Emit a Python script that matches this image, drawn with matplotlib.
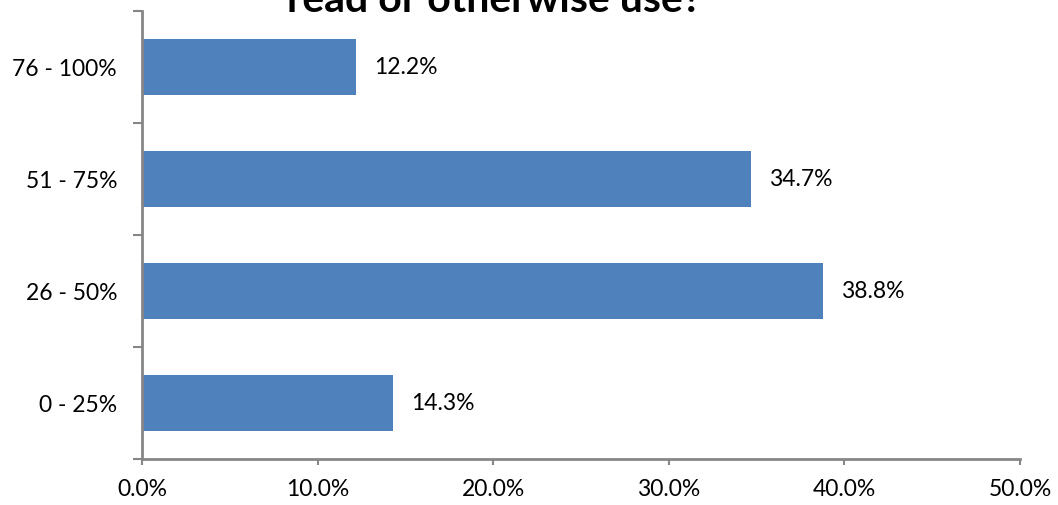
import matplotlib
matplotlib.use('Agg')
import matplotlib.pyplot as plt

categories = ['0 - 25%', '26 - 50%', '51 - 75%', '76 - 100%']
values = [14.3, 38.8, 34.7, 12.2]
xticks = [0, 10, 20, 30, 40, 50]

plt.rcParams['font.family'] = ['Lato', 'DejaVu Sans']

fig = plt.figure(figsize=(10.58, 5.06), dpi=100)
ax = fig.add_axes([142/1058, 46/506, 878/1058, 448/506])

pos = list(range(len(categories)))
ax.barh(pos, values, height=0.5, color='#4F81BD', zorder=2)
for p, v in zip(pos, values):
    ax.text(v + 1.0, p, '%.1f%%' % v, va='center', ha='left', fontsize=16.5)

ax.set_xlim(0, 50)
ax.set_ylim(-0.5, len(categories) - 0.5)
ax.set_xticks(xticks)
ax.set_xticklabels(['%.1f%%' % t for t in xticks], fontsize=16.5)
ax.set_yticks(pos)
ax.set_yticklabels(categories, fontsize=16.5)
ax.tick_params(axis='y', length=0, pad=18)
ax.tick_params(axis='x', length=4.5, width=1.5, color='#868686', pad=9)
# category boundary ticks on the value axis
ax.set_yticks([p - 0.5 for p in pos] + [len(categories) - 0.5], minor=True)
ax.tick_params(axis='y', which='minor', length=6.5, width=1.5, color='#868686')

for s in ['top', 'right']:
    ax.spines[s].set_visible(False)
for s in ['left', 'bottom']:
    ax.spines[s].set_color('#868686')
    ax.spines[s].set_linewidth(2)

fig.text(494/1058, 1 - 12/506, 'read or otherwise use?', ha='center', va='baseline',
         fontsize=29.5, fontweight='bold')

fig.savefig('out.png', dpi=100)
